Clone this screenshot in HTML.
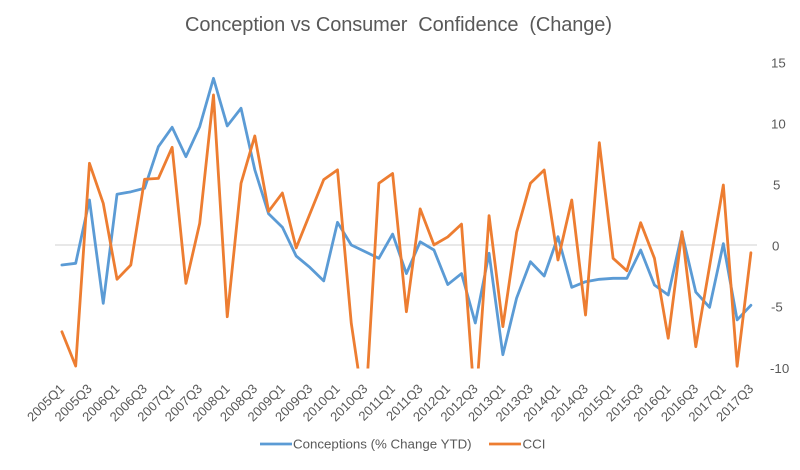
<!DOCTYPE html>
<html>
<head>
<meta charset="utf-8">
<style>
  html, body { margin: 0; padding: 0; background: #ffffff; }
  body { width: 800px; height: 470px; overflow: hidden; }
  svg { display: block; }
  text { font-family: "Liberation Sans", Arial, sans-serif; fill: #595959; }
</style>
</head>
<body>
<svg width="800" height="470" viewBox="0 0 800 470" xmlns="http://www.w3.org/2000/svg">
  <defs>
    <clipPath id="plotclip">
      <rect x="50" y="55" width="712" height="313.5"/>
    </clipPath>
  </defs>
  <rect x="0" y="0" width="800" height="470" fill="#ffffff"/>

  <!-- Title -->
  <text x="398.5" y="31" font-size="20" text-anchor="middle" textLength="427" lengthAdjust="spacing">Conception vs Consumer&#160; Confidence&#160; (Change)</text>

  <!-- zero line -->
  <line x1="55" y1="245" x2="757" y2="245" stroke="#d9d9d9" stroke-width="1.2"/>

  <!-- Y axis labels (right) -->
  <g font-size="13.3">
    <text x="771" y="67.3">15</text>
    <text x="771" y="128.3">10</text>
    <text x="773" y="189.3">5</text>
    <text x="772" y="250.3">0</text>
    <text x="771" y="311.3">-5</text>
    <text x="770" y="372.8">-10</text>
  </g>

  <!-- Series -->
  <g clip-path="url(#plotclip)">
    <g transform="translate(61.9 245.5) scale(13.78 -12.2)">
      <polyline fill="none" stroke="#5B9BD5" stroke-width="2.8" stroke-linejoin="round" stroke-linecap="round" vector-effect="non-scaling-stroke"
        points="0,-1.6 1,-1.46 2,3.73 3,-4.74 4,4.2 5,4.4 6,4.69 7,8.1 8,9.69 9,7.28 10,9.74 11,13.7 12,9.8 13,11.25 14,6.2 15,2.6 16,1.5 17,-0.86 18,-1.8 19,-2.9 20,1.9 21,0.04 22,-0.5 23,-1.05 24,0.94 25,-2.3 26,0.3 27,-0.37 28,-3.2 29,-2.3 30,-6.35 31,-0.64 32,-8.95 33,-4.3 34,-1.33 35,-2.5 36,0.72 37,-3.43 38,-2.97 39,-2.77 40,-2.69 41,-2.69 42,-0.37 43,-3.24 44,-4.06 45,1.0 46,-3.82 47,-5.07 48,0.15 49,-6.1 50,-4.9"/>
      <polyline fill="none" stroke="#ED7D31" stroke-width="2.8" stroke-linejoin="round" stroke-linecap="round" vector-effect="non-scaling-stroke"
        points="0,-7.07 1,-9.88 2,6.74 3,3.46 4,-2.77 5,-1.6 6,5.43 7,5.5 8,8.05 9,-3.1 10,1.82 11,12.34 12,-5.84 13,5.1 14,8.98 15,2.8 16,4.3 17,-0.2 18,2.6 19,5.4 20,6.2 21,-6.38 22,-14 23,5.1 24,5.9 25,-5.43 26,3.0 27,0.05 28,0.7 29,1.75 30,-13.6 31,2.45 32,-6.65 33,1.1 34,5.1 35,6.19 36,-1.19 37,3.73 38,-5.7 39,8.43 40,-1.05 41,-2.07 42,1.87 43,-1.05 44,-7.6 45,1.13 46,-8.3 47,-1.7 48,4.96 49,-9.9 50,-0.6"/>
    </g>
  </g>

  <!-- X axis labels -->
  <g font-size="13" text-anchor="end">
    <text transform="translate(65.2 389.5) rotate(-45)">2005Q1</text>
    <text transform="translate(92.76 389.5) rotate(-45)">2005Q3</text>
    <text transform="translate(120.32 389.5) rotate(-45)">2006Q1</text>
    <text transform="translate(147.88 389.5) rotate(-45)">2006Q3</text>
    <text transform="translate(175.44 389.5) rotate(-45)">2007Q1</text>
    <text transform="translate(203.0 389.5) rotate(-45)">2007Q3</text>
    <text transform="translate(230.56 389.5) rotate(-45)">2008Q1</text>
    <text transform="translate(258.12 389.5) rotate(-45)">2008Q3</text>
    <text transform="translate(285.68 389.5) rotate(-45)">2009Q1</text>
    <text transform="translate(313.24 389.5) rotate(-45)">2009Q3</text>
    <text transform="translate(340.8 389.5) rotate(-45)">2010Q1</text>
    <text transform="translate(368.36 389.5) rotate(-45)">2010Q3</text>
    <text transform="translate(395.92 389.5) rotate(-45)">2011Q1</text>
    <text transform="translate(423.48 389.5) rotate(-45)">2011Q3</text>
    <text transform="translate(451.04 389.5) rotate(-45)">2012Q1</text>
    <text transform="translate(478.6 389.5) rotate(-45)">2012Q3</text>
    <text transform="translate(506.16 389.5) rotate(-45)">2013Q1</text>
    <text transform="translate(533.72 389.5) rotate(-45)">2013Q3</text>
    <text transform="translate(561.28 389.5) rotate(-45)">2014Q1</text>
    <text transform="translate(588.84 389.5) rotate(-45)">2014Q3</text>
    <text transform="translate(616.4 389.5) rotate(-45)">2015Q1</text>
    <text transform="translate(643.96 389.5) rotate(-45)">2015Q3</text>
    <text transform="translate(671.52 389.5) rotate(-45)">2016Q1</text>
    <text transform="translate(699.08 389.5) rotate(-45)">2016Q3</text>
    <text transform="translate(726.64 389.5) rotate(-45)">2017Q1</text>
    <text transform="translate(754.2 389.5) rotate(-45)">2017Q3</text>
  </g>

  <!-- Legend -->
  <line x1="260" y1="444" x2="292" y2="444" stroke="#5B9BD5" stroke-width="2.8"/>
  <text x="293" y="448.7" font-size="13.3">Conceptions (% Change YTD)</text>
  <line x1="489" y1="444" x2="521" y2="444" stroke="#ED7D31" stroke-width="2.8"/>
  <text x="522.5" y="448.7" font-size="13.3">CCI</text>
</svg>
</body>
</html>
